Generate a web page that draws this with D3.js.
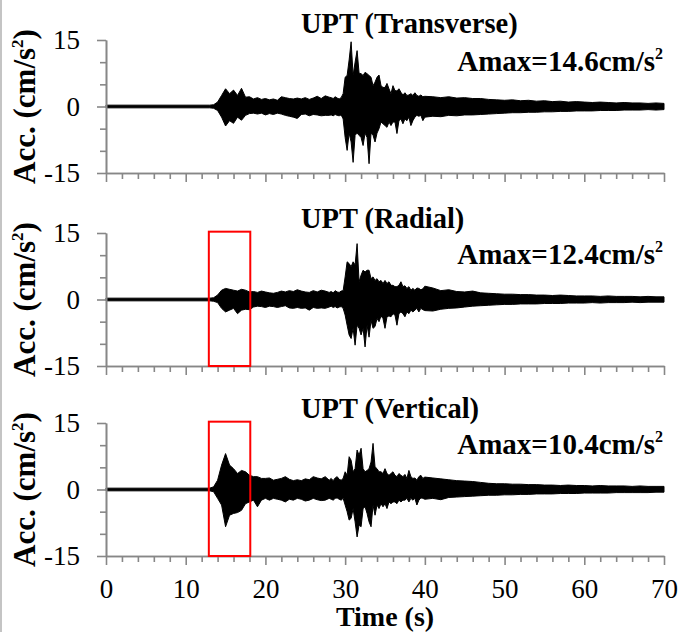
<!DOCTYPE html>
<html><head><meta charset="utf-8">
<script src="https://cdn.jsdelivr.net/npm/d3@7"></script>
<style>
html,body{margin:0;padding:0;background:#fff;}
svg{display:block;}
svg text{font-family:"Liberation Serif","Times New Roman","DejaVu Serif",serif;}
</style></head>
<body>
<svg id="chart" width="680" height="632"></svg>
<script>
// ---------- DATA ----------
const time = [0,
 13,13.5,14,14.5,15,15.5,16,16.5,17,17.5,18,18.5,19,19.5,20,20.5,21,21.5,22,22.5,23,23.5,24,24.5,25,25.5,26,26.5,27,27.5,
 28,28.25,28.5,28.75,29,29.25,29.5,29.75,30,30.25,30.5,30.75,31,31.25,31.5,31.75,32,32.25,32.5,32.75,33,33.25,33.5,33.75,
 34,34.25,34.5,34.75,35,35.25,35.5,35.75,36,36.25,36.5,36.75,37,37.25,37.5,37.75,38,38.25,38.5,38.75,39,39.25,39.5,39.75,
 40,41,42,43,44,45,46,47,48,49,50,51,52,53,54,55,56,57,58,59,60,61,62,63,64,65,66,67,68,69,70];

const transverseHi = [0.3,
 0.3,0.4,1.0,2.5,4.0,2.9,3.7,2.5,4.1,2.1,2.2,1.7,2.0,1.6,1.8,1.5,1.7,1.4,2.2,2.0,1.8,1.7,1.9,1.7,2.0,1.6,1.9,2.3,1.8,2.4,
 2.1,2.0,1.8,2.2,1.9,1.7,2.0,2.9,6.6,7.0,10.5,14.6,7.0,10.0,12.6,7.5,7.4,7.0,7.7,7.4,7.0,6.6,4.7,5.5,
 6.6,7.1,4.7,4.3,4.3,5.2,4.0,2.9,4.7,3.6,3.5,4.0,3.2,2.6,3.1,2.5,2.6,2.9,2.5,3.1,2.5,2.3,2.6,2.2,
 2.3,2.2,2.0,2.2,1.9,2.0,1.8,1.8,1.6,1.5,1.4,1.5,1.3,1.4,1.2,1.3,1.1,1.2,1.0,1.1,1.0,0.9,1.0,0.9,0.8,0.9,0.8,0.8,0.7,0.8,0.7];
const transverseLo = [-0.3,
 -0.3,-0.4,-0.9,-2.4,-4.4,-3.2,-3.8,-2.4,-3.1,-2.0,-1.6,-1.5,-1.7,-1.5,-1.9,-1.6,-1.8,-1.5,-1.7,-2.0,-2.2,-2.4,-2.7,-1.8,-1.7,-2.1,-1.8,-1.9,-2.1,-2.0,
 -2.0,-1.9,-2.1,-1.8,-2.0,-2.1,-1.9,-2.8,-7.0,-9.9,-6.0,-8.0,-12.6,-6.5,-6.0,-6.5,-7.0,-8.8,-6.0,-7.0,-12.9,-6.0,-6.5,-8.0,
 -6.0,-5.0,-3.5,-3.9,-4.3,-4.7,-3.5,-4.3,-3.5,-3.5,-6.1,-3.2,-2.8,-3.9,-2.8,-3.2,-2.4,-4.3,-3.2,-2.4,-2.0,-2.2,-2.0,-3.2,
 -2.4,-2.2,-2.3,-2.0,-2.1,-1.9,-1.9,-1.8,-1.7,-1.6,-1.5,-1.4,-1.4,-1.3,-1.3,-1.2,-1.2,-1.1,-1.1,-1.0,-1.0,-1.0,-0.9,-0.9,-0.9,-0.8,-0.8,-0.8,-0.7,-0.8,-0.7];

const radialHi = [0.3,
 0.3,0.4,1.0,2.1,2.5,2.3,2.1,1.9,2.3,2.1,1.7,1.8,1.6,1.9,1.7,1.5,1.4,1.6,1.9,1.7,2.0,1.8,2.2,1.9,1.7,1.6,2.0,1.7,2.1,1.9,
 1.6,1.8,1.5,2.0,1.7,1.6,1.9,2.0,5.1,8.5,8.1,7.4,8.5,7.8,12.6,4.0,5.5,6.6,6.2,6.6,6.6,4.7,5.1,4.3,
 4.7,4.0,4.3,3.6,4.3,3.6,4.0,3.2,3.2,2.9,2.9,3.2,4.0,2.9,3.1,2.5,2.9,2.1,2.5,2.1,2.6,2.5,2.2,2.4,
 3.0,2.6,2.0,2.2,1.8,1.7,1.9,1.5,1.4,1.3,1.2,1.2,1.1,1.1,1.0,1.0,0.9,1.0,0.9,0.8,0.8,0.8,0.7,0.8,0.7,0.7,0.7,0.6,0.7,0.6,0.6];
const radialLo = [-0.3,
 -0.3,-0.4,-0.7,-2.0,-2.8,-2.4,-2.0,-3.2,-2.4,-2.2,-2.3,-1.7,-1.5,-1.6,-1.8,-1.5,-1.6,-1.8,-1.6,-1.4,-1.9,-2.0,-1.8,-2.0,-1.9,-2.4,-1.8,-2.0,-1.9,-2.0,
 -1.7,-1.5,-1.8,-1.6,-1.9,-1.7,-1.6,-2.0,-3.5,-5.8,-8.0,-8.8,-6.5,-10.3,-5.8,-6.5,-8.0,-6.5,-10.7,-5.8,-8.5,-4.7,-6.5,-6.1,
 -4.3,-5.0,-3.7,-4.3,-6.5,-3.9,-3.7,-3.9,-3.2,-3.5,-5.8,-3.2,-2.8,-3.2,-3.9,-2.8,-3.2,-2.4,-2.8,-2.4,-2.0,-2.8,-2.0,-2.3,
 -2.5,-2.6,-2.2,-2.0,-1.9,-1.7,-1.5,-1.4,-1.3,-1.2,-1.1,-1.1,-1.0,-1.0,-1.0,-0.9,-0.9,-0.9,-0.8,-0.8,-0.8,-0.7,-0.8,-0.7,-0.7,-0.7,-0.6,-0.7,-0.6,-0.6,-0.6];

const verticalHi = [0.3,
 0.3,0.6,2.1,5.5,8.1,5.5,4.7,3.6,4.3,4.0,3.2,2.9,2.9,2.5,2.5,2.6,2.1,2.3,2.5,2.9,2.3,2.0,2.2,2.0,2.4,2.2,2.9,2.6,2.4,2.9,
 2.1,2.5,2.0,2.6,2.9,2.3,2.1,2.5,4.0,3.2,7.4,6.6,4.0,4.7,8.9,7.7,9.3,4.7,4.0,4.3,4.7,6.2,10.4,5.1,
 4.7,4.0,4.0,3.6,4.7,3.6,3.2,3.6,4.0,3.2,2.9,3.6,3.2,2.9,3.4,2.5,4.3,2.9,2.5,2.6,2.1,2.9,3.2,2.5,
 2.8,2.6,2.4,2.2,2.0,1.9,1.8,1.6,1.4,1.3,1.3,1.2,1.2,1.1,1.1,1.0,1.0,0.9,1.0,0.9,0.9,0.8,0.9,0.8,0.8,0.8,0.7,0.8,0.7,0.7,0.7];
const verticalLo = [-0.3,
 -0.3,-0.5,-2.0,-3.5,-8.4,-5.8,-5.4,-5.2,-4.7,-3.2,-2.8,-2.4,-3.9,-2.4,-2.0,-2.4,-2.0,-2.2,-2.4,-2.8,-2.2,-2.4,-2.0,-2.2,-2.6,-2.4,-2.0,-2.3,-2.5,-2.4,
 -2.0,-2.2,-2.4,-2.0,-1.9,-2.2,-2.4,-2.0,-3.5,-5.0,-6.9,-6.5,-4.3,-7.3,-10.7,-8.0,-8.4,-4.3,-3.9,-5.4,-7.3,-8.4,-3.5,-5.8,
 -3.5,-4.3,-3.2,-3.9,-3.2,-4.3,-2.8,-3.2,-2.8,-2.8,-3.2,-2.4,-2.8,-2.4,-2.4,-2.0,-2.8,-2.0,-2.4,-2.0,-3.5,-2.4,-1.9,-2.0,
 -2.2,-2.0,-2.3,-1.8,-1.7,-1.6,-1.5,-1.4,-1.3,-1.3,-1.2,-1.2,-1.1,-1.1,-1.0,-1.0,-1.0,-0.9,-0.9,-0.9,-0.8,-0.8,-0.8,-0.8,-0.7,-0.7,-0.7,-0.7,-0.7,-0.6,-0.6];

const panelTitles = ["UPT (Transverse)", "UPT (Radial)", "UPT (Vertical)"];
const amaxValues = ["14.6", "12.4", "10.4"];
const yMajorTicks = [-15, 0, 15];
const yMinorTicks = [-10, -5, 5, 10];
const xMajorTicks = [0, 10, 20, 30, 40, 50, 60, 70];
const xMinorTicks = [2,4,6,8,12,14,16,18,22,24,26,28,32,34,36,38,42,44,46,48,52,54,56,58,62,64,66,68];
const highlightWindow = [12.9, 18.1];   // seconds (red boxes, panels 2 & 3)
const highlightAmp = [-15, 15.3];
const highlightPanels = [false, true, true];

// ---------- LAYOUT ----------
const svg = d3.select("#chart");
const serif = '"Liberation Serif","Times New Roman","DejaVu Serif",serif';
const axisColor = "#878787";
const panelTops = [40, 233, 423];
const panelH = 133;
const titleY = [33, 228, 418];
const series = [[transverseHi, transverseLo],[radialHi, radialLo],[verticalHi, verticalLo]];

const x = d3.scaleLinear().domain([0, 70]).range([106, 664]);

// left border
svg.append("line").attr("x1",1).attr("x2",1).attr("y1",0).attr("y2",632)
  .attr("stroke","#c4c4c4").attr("stroke-width",2);

panelTitles.forEach((title, p) => {
  const top = panelTops[p];
  const y = d3.scaleLinear().domain([-15, 15]).range([top + panelH, top]);
  const g = svg.append("g");
  const [hi, lo] = series[p];
  const pts = time.map((t, i) => ({t, hi: hi[i], lo: lo[i]}));

  // waveform
  const area = d3.area().x(d => x(d.t)).y0(d => y(d.lo)).y1(d => y(d.hi));
  g.append("path").attr("d", area(pts))
    .attr("fill", "#000").attr("stroke", "#000").attr("stroke-width", 1).attr("stroke-linejoin","miter");

  // y axis
  const yMaj = g.append("g").attr("transform", `translate(${x(0)},0)`)
    .call(d3.axisLeft(y).tickValues(yMajorTicks).tickSize(9).tickSizeOuter(0).tickPadding(17).tickFormat(d => String(d)));
  const yMin = g.append("g").attr("transform", `translate(${x(0)},0)`)
    .call(d3.axisLeft(y).tickValues(yMinorTicks).tickSize(6).tickSizeOuter(0).tickFormat(""));
  // x axis
  const xMaj = g.append("g").attr("transform", `translate(0,${y(-15)})`)
    .call(d3.axisBottom(x).tickValues(xMajorTicks).tickSize(9).tickSizeOuter(0).tickPadding(14)
      .tickFormat(p === 2 ? (d => String(d)) : ""));
  const xMin = g.append("g").attr("transform", `translate(0,${y(-15)})`)
    .call(d3.axisBottom(x).tickValues(xMinorTicks).tickSize(6).tickSizeOuter(0).tickFormat(""));
  [yMaj, yMin, xMaj, xMin].forEach(a => {
    a.attr("font-family", null).attr("font-size", null);
    a.selectAll("path.domain").attr("stroke", axisColor).attr("stroke-width", 1.6);
    a.selectAll(".tick line").attr("stroke", axisColor).attr("stroke-width", 1.6);
    a.selectAll(".tick text").attr("fill", "#000").style("font-family", serif).style("font-size", "27px");
  });

  // red highlight box
  if (highlightPanels[p]) {
    g.append("rect")
      .attr("x", x(highlightWindow[0])).attr("y", y(highlightAmp[1]))
      .attr("width", x(highlightWindow[1]) - x(highlightWindow[0]))
      .attr("height", y(highlightAmp[0]) - y(highlightAmp[1]))
      .attr("fill", "none").attr("stroke", "#ff0000").attr("stroke-width", 2);
  }

  // title
  g.append("text").attr("x", 301).attr("y", titleY[p])
    .style("font-family", serif).style("font-weight", "bold").style("font-size", "28.5px")
    .text(title);
  // Amax
  const am = g.append("text").attr("x", 663).attr("y", top + 31).attr("text-anchor", "end")
    .style("font-family", serif).style("font-weight", "bold").style("font-size", "29px");
  am.append("tspan").text(`Amax=${amaxValues[p]}cm/s`);
  am.append("tspan").style("font-size", "16px").attr("dy", -12).text("2");

  // y label
  const yl = g.append("text").attr("transform", `translate(35,${top + panelH / 2}) rotate(-90)`)
    .attr("text-anchor", "middle")
    .style("font-family", serif).style("font-weight", "bold").style("font-size", "31px");
  yl.append("tspan").text("Acc. (cm/s");
  yl.append("tspan").style("font-size", "17px").attr("dy", -12).text("2");
  yl.append("tspan").attr("dy", 12).text(")");
});

// x axis title
svg.append("text").attr("x", x(35)).attr("y", 626).attr("text-anchor", "middle")
  .style("font-family", serif).style("font-weight", "bold").style("font-size", "28px")
  .text("Time (s)");
</script>
</body></html>
